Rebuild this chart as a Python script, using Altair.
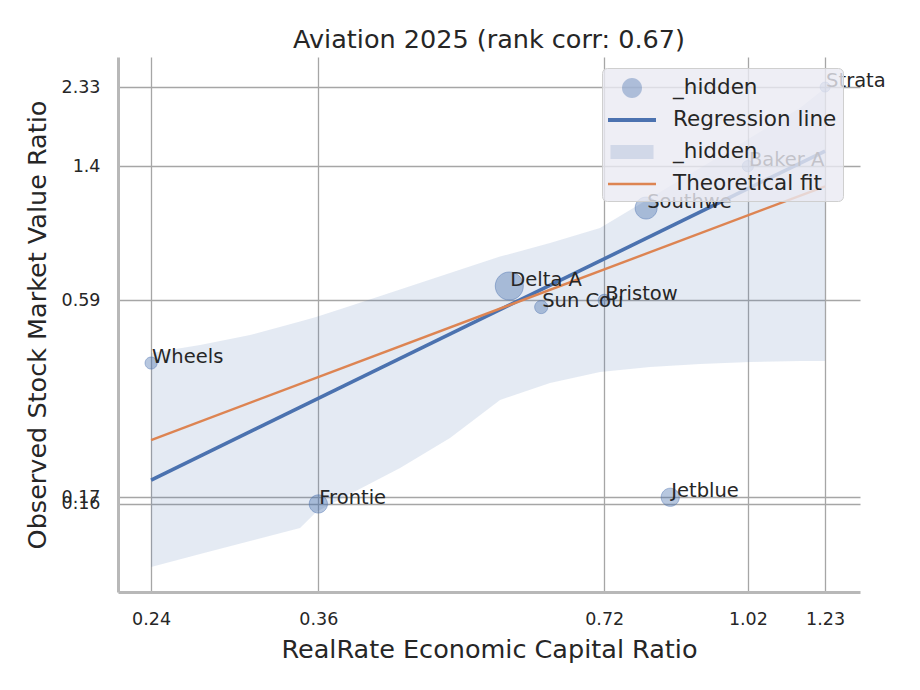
import altair as alt
import pandas as pd

# ---- data ----
names = ["Wheels", "Frontie", "Delta A", "Sun Cou", "Bristow", "Southwe", "Jetblue", "Baker A", "Strata"]
econ_ratio = [0.24, 0.36, 0.572, 0.618, 0.72, 0.797, 0.845, 1.02, 1.23]
market_ratio = [0.394, 0.159, 0.647, 0.565, 0.59, 1.069, 0.166, 1.40, 2.33]
weight = [1.15, 2.6, 6.2, 1.35, 1.15, 3.8, 2.6, 1.0, 0.8]

reg_x = [0.24, 1.23]
reg_y = [0.1855, 1.543]

theo_x = [0.24, 1.23]
theo_y = [0.24, 1.23]

band_x = [0.240, 0.2703, 0.3051, 0.3444, 0.3581, 0.3888, 0.4389, 0.4954,
          0.5593, 0.6313, 0.7127, 0.8046, 0.9083, 1.0253, 1.1574, 1.2297]
band_lo = [0.1060, 0.1152, 0.1253, 0.1362, 0.1510, 0.1695, 0.2005, 0.2432,
           0.3106, 0.3465, 0.3719, 0.3841, 0.3916, 0.3967, 0.3993, 0.3993]
band_hi = [0.4203, 0.4426, 0.4720, 0.5149, 0.5300, 0.5689, 0.6322, 0.7036,
           0.7819, 0.8535, 0.9400, 1.1404, 1.3835, 1.6782, 2.0359, 2.3157]

x_ticks = [0.24, 0.36, 0.72, 1.02, 1.23]
y_ticks = [0.159, 0.166, 0.59, 1.40, 2.33]

legend_entries = ["_hidden", "Regression line", "_hidden ", "Theoretical fit"]
legend_colors = ["rgba(76,114,176,0.4)", "#4c72b0", "rgba(76,114,176,0.18)", "#dd8452"]
legend_shapes = [
    "M0.714,0A0.714,0.714,0,1,1,-0.714,0A0.714,0.714,0,1,1,0.714,0Z",
    "M-1.714,-0.143H1.714V0.143H-1.714Z",
    "M-1.536,-0.5H1.536V0.5H-1.536Z",
    "M-1.714,-0.089H1.714V0.089H-1.714Z",
]

# ---- tables ----
pts_df = pd.DataFrame({"name": names, "x": econ_ratio, "y": market_ratio,
                       "w": weight, "entry": legend_entries[0]})
reg_df = pd.DataFrame({"x": reg_x, "y": reg_y})
theo_df = pd.DataFrame({"x": theo_x, "y": theo_y})
band_df = pd.DataFrame({"x": band_x, "y": band_lo, "y2": band_hi})

TXT = "#262626"
FONT = "DejaVu Sans"

x_scale = alt.Scale(type="log", domain=[0.2215, 1.3386], nice=False)
y_scale = alt.Scale(type="log", domain=[0.0902, 2.8273], nice=False)

x_axis = alt.Axis(values=x_ticks, format=".2~f", ticks=False, labelPadding=18,
                  labelFontSize=17.5, labelColor=TXT, labelFlush=False, labelOverlap=False,
                  domainColor="#b8b8b8", domainWidth=3, grid=True, gridColor="#a6a6a6",
                  gridWidth=1.3, titleFontSize=25.5, titleFontWeight="normal",
                  titleColor=TXT, titlePadding=10)
y_axis = alt.Axis(values=y_ticks, format=".2~f", ticks=False, labelPadding=18,
                  labelFontSize=17.5, labelColor=TXT, labelOverlap=False,
                  domainColor="#b8b8b8", domainWidth=3, grid=True, gridColor="#a6a6a6",
                  gridWidth=1.3, titleFontSize=25.5, titleFontWeight="normal",
                  titleColor=TXT, titlePadding=11)

X_TITLE = "RealRate Economic Capital Ratio"
Y_TITLE = "Observed Stock Market Value Ratio"


def xenc():
    return alt.X("x:Q", scale=x_scale, axis=x_axis, title=X_TITLE)


def yenc():
    return alt.Y("y:Q", scale=y_scale, axis=y_axis, title=Y_TITLE)


leg = alt.Legend(orient="none", legendX=484, legendY=11, direction="vertical", title=None,
                 symbolSize=784, symbolStrokeWidth=0, symbolOffset=10,
                 labelFontSize=21.5, labelColor=TXT,
                 labelOffset=27, padding=6, rowPadding=7, labelLimit=400,
                 fillColor="rgba(234,234,242,0.8)", strokeColor="#cfcfcf", cornerRadius=5)

points = alt.Chart(pts_df).mark_point(
    filled=True, opacity=1, stroke="#4c72b0", strokeWidth=1, strokeOpacity=0.45
).encode(
    x=xenc(),
    y=yenc(),
    size=alt.Size("w:Q", scale=alt.Scale(domain=[0, 6.2], range=[0, 1548]), legend=None),
    color=alt.Color("entry:N", scale=alt.Scale(domain=legend_entries, range=legend_colors), legend=leg),
    shape=alt.Shape("entry:N", scale=alt.Scale(domain=legend_entries, range=legend_shapes), legend=leg),
)

reg_line = alt.Chart(reg_df).mark_line(color="#4c72b0", strokeWidth=3.6).encode(x=xenc(), y=yenc())

band = alt.Chart(band_df).mark_area(color="#4c72b0", opacity=0.15).encode(
    x=xenc(), y=yenc(), y2="y2:Q"
)

theo_line = alt.Chart(theo_df).mark_line(color="#dd8452", strokeWidth=2.4).encode(x=xenc(), y=yenc())

labels = alt.Chart(pts_df).mark_text(
    align="left", baseline="alphabetic", dx=1, fontSize=19.5, color=TXT, font=FONT
).encode(x=xenc(), y=yenc(), text="name:N")

chart = alt.layer(points, reg_line, band, theo_line, labels).properties(
    width=742, height=535,
    autosize=alt.AutoSizeParams(type="none"),
    padding={"left": 110, "top": 49, "right": 52, "bottom": 90},
    title=alt.Title("Aviation 2025 (rank corr: 0.67)", fontSize=25.5, fontWeight="normal",
                    color=TXT, frame="group", anchor="middle", baseline="alphabetic",
                    offset=10, dy=26),
).configure(
    font=FONT, background="white"
).configure_view(strokeWidth=0)

chart.save("out.html", embed_options={"renderer": "svg", "actions": False})
